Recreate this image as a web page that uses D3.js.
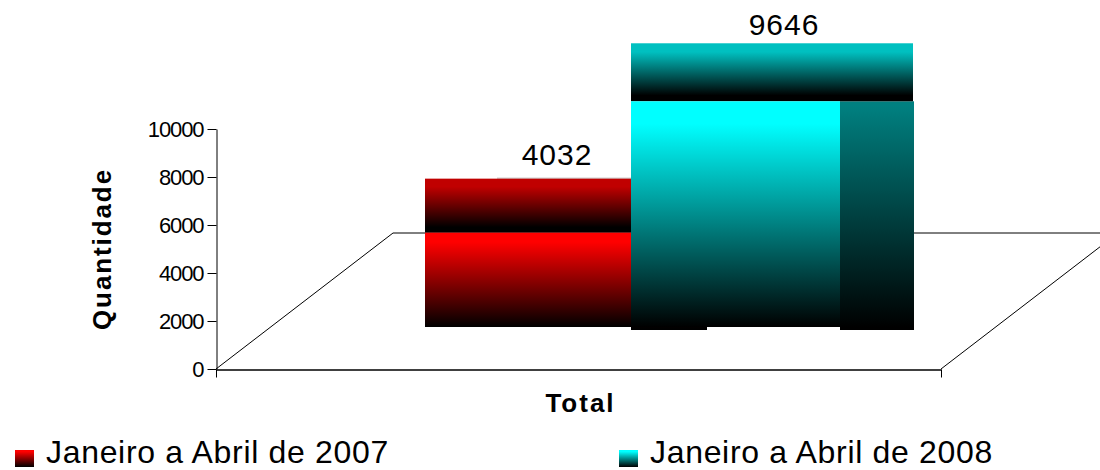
<!DOCTYPE html>
<html>
<head>
<meta charset="utf-8">
<script src="https://d3js.org/d3.v7.min.js"></script>
<style>
  html, body { margin: 0; padding: 0; background: #fff; }
  text { font-family: "Liberation Sans", Arial, sans-serif; fill: #000; }
</style>
</head>
<body>
<div id="chart"></div>
<script>
// values
var seriesNames = ["Janeiro a Abril de 2007", "Janeiro a Abril de 2008"];
var seriesValues = [4032, 9646];
var yTicks = [0, 2000, 4000, 6000, 8000, 10000];
var categories = ["Total"];
var yTitle = "Quantidade";

// colours for each series: front, top, side
var frontColors = ["#ff0000", "#00ffff"];
var topColors = ["#c00000", "#00c0c0"];
var sideColors = ["#800000", "#008080"];

var width = 1100, height = 470;

var svg = d3.select("#chart").append("svg")
    .attr("width", width)
    .attr("height", height)
    .style("display", "block");

var defs = svg.append("defs");

function addGradient(id, color, start, end) {
  var g = defs.append("linearGradient").attr("id", id)
      .attr("x1", 0).attr("y1", 0).attr("x2", 0).attr("y2", 1);
  g.append("stop").attr("offset", 0).attr("stop-color", color);
  g.append("stop").attr("offset", start).attr("stop-color", color);
  g.append("stop").attr("offset", end).attr("stop-color", "#000");
  g.append("stop").attr("offset", 1).attr("stop-color", "#000");
}

seriesNames.forEach(function(d, i) {
  addGradient("front" + i, frontColors[i], 0.1, 1);
  addGradient("top" + i, topColors[i], 0.15, 0.9);
  addGradient("side" + i, sideColors[i], 0.02, 0.99);
});

// axes
var x0 = 216, x1 = 941, yBase = 369, yTop = 129;
var depthX = 177, depthY = 136;

var y = d3.scaleLinear().domain([0, 10000]).range([yBase, yTop]);
var xAxisScale = d3.scaleLinear().domain([0, 1]).range([x0, x1]);

// the floor of the 3d box
var floorLine = d3.line();
svg.append("path")
    .attr("d", floorLine([[x0, yBase], [x0 + depthX, yBase - depthY], [x1 + depthX, yBase - depthY], [x1, yBase]]))
    .attr("fill", "none")
    .attr("stroke", "#000")
    .attr("stroke-width", 1);

var yAxis = svg.append("g")
    .attr("transform", "translate(" + (x0 + 0.5) + ",0)")
    .call(d3.axisLeft(y).tickValues(yTicks).tickFormat(d3.format("d")).tickSize(9).tickSizeOuter(0).tickPadding(4));
yAxis.select(".domain").attr("stroke", "#000");
yAxis.selectAll("text")
    .style("font-size", "22px")
    .style("letter-spacing", "-1.1px");

var xAxis = svg.append("g")
    .attr("transform", "translate(0," + (yBase + 0.5) + ")")
    .call(d3.axisBottom(xAxisScale).tickValues([0, 1]).tickFormat("").tickSize(8).tickSizeOuter(0));
xAxis.select(".domain").attr("stroke", "#000").attr("stroke-width", 1.5);

svg.append("text")
    .attr("x", 580.5)
    .attr("y", 412)
    .attr("text-anchor", "middle")
    .style("font-size", "26px")
    .style("font-weight", "bold")
    .style("letter-spacing", "2px")
    .text(categories[0]);

svg.append("text")
    .attr("transform", "translate(111,249) rotate(-90)")
    .attr("text-anchor", "middle")
    .style("font-size", "26px")
    .style("font-weight", "bold")
    .style("letter-spacing", "1.9px")
    .text(yTitle);

// bars
var x = d3.scaleOrdinal().domain(seriesNames).range([425, 631]);
var barW = [206, 209], sideW = [76, 74], topH = [54, 58];
var barH = d3.scaleLinear().domain([0, 10000]).range([0, 234]);
var barBase = 327;
var labelX = [557, 784], labelGap = [14, 8];

var bars = svg.selectAll("g.bar").data(seriesNames).enter().append("g").attr("class", "bar");

bars.each(function(name, i) {
  var g = d3.select(this);
  var bx = x(name), bw = barW[i];
  var frontTop = barBase - barH(seriesValues[i]);

  // faint back edge above the red top face
  if (i === 0) {
    g.append("line")
        .attr("x1", bx + 72).attr("x2", bx + bw)
        .attr("y1", frontTop - topH[i] - 0.5).attr("y2", frontTop - topH[i] - 0.5)
        .attr("stroke", "#bbb");
  }
  g.append("rect")
      .attr("x", bx + bw).attr("y", frontTop)
      .attr("width", sideW[i]).attr("height", barBase + 3 - frontTop)
      .attr("fill", "url(#side" + i + ")");
  g.append("rect")
      .attr("x", bx).attr("y", frontTop - topH[i])
      .attr("width", bw + sideW[i] - 1).attr("height", topH[i])
      .attr("fill", "url(#top" + i + ")");
  g.append("rect")
      .attr("x", bx).attr("y", frontTop)
      .attr("width", bw).attr("height", barBase - frontTop)
      .attr("fill", "url(#front" + i + ")");
  g.append("text")
      .attr("x", labelX[i])
      .attr("y", frontTop - topH[i] - labelGap[i])
      .attr("text-anchor", "middle")
      .style("font-size", "30px")
      .style("letter-spacing", "1px")
      .text(seriesValues[i]);
});

// legend
var legendX = d3.scaleOrdinal().domain(seriesNames).range([15, 619]);
var legend = svg.selectAll("g.legend").data(seriesNames).enter().append("g").attr("class", "legend");
legend.append("rect")
    .attr("x", function(d) { return legendX(d); })
    .attr("y", 450)
    .attr("width", 19)
    .attr("height", 17)
    .attr("fill", function(d, i) { return "url(#front" + i + ")"; });
legend.append("text")
    .attr("x", function(d) { return legendX(d) + 31; })
    .attr("y", 463)
    .style("font-size", "32px")
    .style("letter-spacing", "0.68px")
    .text(function(d) { return d; });
</script>
</body>
</html>
